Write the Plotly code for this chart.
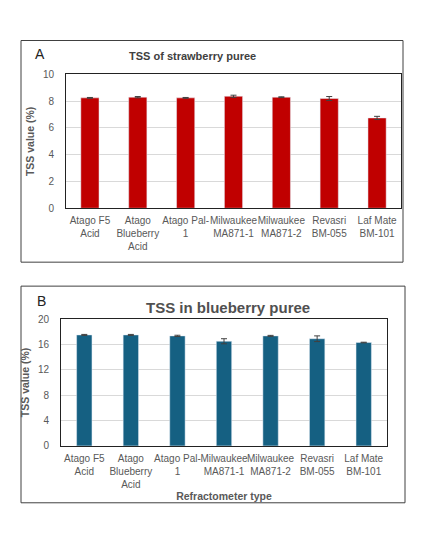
import plotly.graph_objects as go

W, H = 424, 548
PAGE_MARGIN = 8  # browser body margin around the plot div
Y_STRETCH = 1.017  # small vertical correction measured against the reference

# ---------------------------------------------------------------------------
# Data
# ---------------------------------------------------------------------------
refractometers = ["Atago F5<br>Acid", "Atago<br>Blueberry<br>Acid", "Atago Pal-<br>1",
                  "Milwaukee<br>MA871-1", "Milwaukee<br>MA871-2", "Revasri<br>BM-055",
                  "Laf Mate<br>BM-101"]
strawberry_tss = [8.25, 8.3, 8.25, 8.37, 8.3, 8.2, 6.75]
strawberry_err = [0.03, 0.05, 0.03, 0.08, 0.03, 0.15, 0.12]
blueberry_tss = [17.5, 17.5, 17.35, 16.5, 17.35, 16.9, 16.3]
blueberry_err = [0.08, 0.08, 0.1, 0.4, 0.08, 0.45, 0.05]

RED = "#C00000"
BLUE = "#156082"
GREY = "#595959"
FONT = "Liberation Sans"


def fx(px):
    return (px - PAGE_MARGIN) / W


def fy(py):
    py = H / 2 + (py - H / 2) * Y_STRETCH
    return 1 - (py - PAGE_MARGIN) / H


def label(text, px, py, size, color):
    return dict(text=text, x=fx(px), y=fy(py), xref="paper", yref="paper",
                xanchor="center", yanchor="middle", showarrow=False,
                font=dict(family=FONT, size=size, color=color))


fig = go.Figure()
fig.add_trace(go.Bar(x=refractometers, y=strawberry_tss, marker_color=RED, width=0.38,
                     error_y=dict(type="data", array=strawberry_err, color="#404040",
                                  thickness=1, width=3),
                     xaxis="x", yaxis="y"))
fig.add_trace(go.Bar(x=refractometers, y=blueberry_tss, marker_color=BLUE, width=0.33,
                     error_y=dict(type="data", array=blueberry_err, color="#404040",
                                  thickness=1, width=3),
                     xaxis="x2", yaxis="y2"))

tickfont = dict(family=FONT, size=10, color=GREY)
axis_common = dict(showline=True, linecolor="#222222", linewidth=1, mirror=True,
                   ticks="", tickfont=tickfont)
ytitle_font = dict(family=FONT, size=10.5, color=GREY)

fig.update_layout(
    width=W, height=H, margin=dict(l=0, r=0, t=0, b=0),
    paper_bgcolor="white", plot_bgcolor="white", showlegend=False,
    font=dict(family=FONT, color=GREY),
    xaxis=dict(domain=[fx(66), fx(401)], anchor="y", tickangle=0, ticklabelstandoff=3,
               **axis_common),
    yaxis=dict(domain=[fy(208), fy(74)], anchor="x", range=[0, 10], dtick=2,
               showgrid=True, gridcolor="#D9D9D9", gridwidth=1, ticklabelstandoff=9,
               **axis_common,
               title=dict(text="<b>TSS value (%)</b>", font=ytitle_font, standoff=6)),
    xaxis2=dict(domain=[fx(61), fx(387)], anchor="y2", tickangle=0, ticklabelstandoff=3,
                **axis_common,
                title=dict(text="<b>Refractometer type</b>", font=dict(family=FONT, size=10.5, color=GREY),
                           standoff=3)),
    yaxis2=dict(domain=[fy(446), fy(319)], anchor="x2", range=[0, 20], dtick=4,
                showgrid=True, gridcolor="#D9D9D9", gridwidth=1, ticklabelstandoff=9,
                **axis_common,
                title=dict(text="<b>TSS value (%)</b>", font=ytitle_font, standoff=6)),
    shapes=[
        dict(type="rect", xref="paper", yref="paper", x0=fx(21), x1=fx(403), y0=fy(262), y1=fy(40),
             line=dict(color="#404040", width=1)),
        dict(type="rect", xref="paper", yref="paper", x0=fx(21), x1=fx(405), y0=fy(503), y1=fy(286),
             line=dict(color="#404040", width=1)),
    ],
    annotations=[
        label("A", 40, 54, 14, "#222222"),
        label("<b>TSS of strawberry puree</b>", 192, 56, 11, "#404040"),
        label("B", 41, 301, 14, "#222222"),
        label("<b>TSS in blueberry puree</b>", 228, 307, 15, "#505050"),
    ],
)

fig.write_html("out.html")
